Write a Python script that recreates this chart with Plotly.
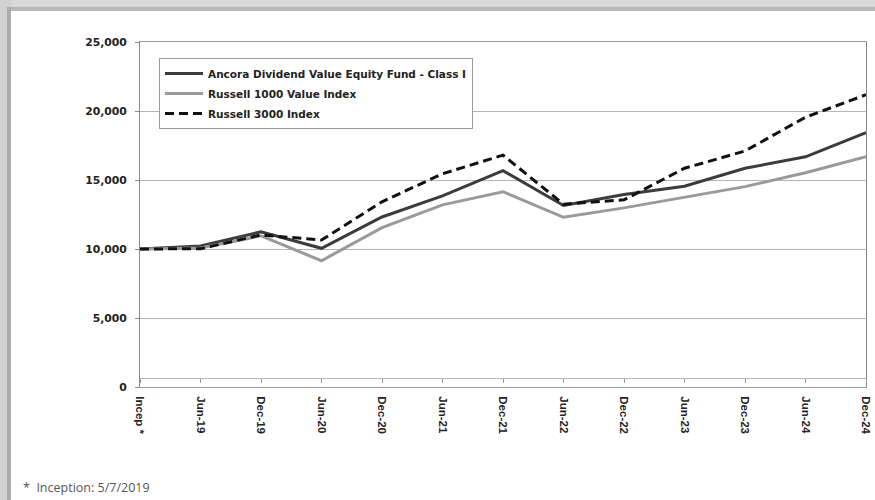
import plotly.graph_objects as go

categories = ["Incep *", "Jun-19", "Dec-19", "Jun-20", "Dec-20", "Jun-21", "Dec-21",
              "Jun-22", "Dec-22", "Jun-23", "Dec-23", "Jun-24", "Dec-24"]
fund = [10000, 10220, 11250, 10050, 12320, 13850, 15680, 13150, 13950, 14550, 15850, 16680, 18430]
r1000v = [10000, 10080, 10950, 9150, 11550, 13200, 14150, 12300, 12980, 13760, 14520, 15520, 16680]
r3000 = [10000, 10020, 11020, 10650, 13420, 15450, 16800, 13250, 13560, 15850, 17100, 19550, 21180]
names = ["Ancora Dividend Value Equity Fund - Class I", "Russell 1000 Value Index", "Russell 3000 Index"]
y_ticks = [0, 5000, 10000, 15000, 20000, 25000]
footnote = "*  Inception: 5/7/2019"

W, H = 875, 500
L, R, T, B = 140, 9, 42, 113
PW, PH = W - L - R, H - T - B


def px2x(px):
    return (px - L) / PW


def py2y(py):
    return (H - B - py) / PH


fig = go.Figure()
fig.add_trace(go.Scatter(x=categories, y=fund, mode="lines", name=names[0],
                         line=dict(color="#3c3c3c", width=3), legendgroup="a"))
fig.add_trace(go.Scatter(x=categories, y=r1000v, mode="lines", name=names[1],
                         line=dict(color="#9a9a9a", width=3), legendgroup="b"))
fig.add_trace(go.Scatter(x=categories, y=r3000, mode="lines", name=names[2],
                         line=dict(color="#111111", width=3, dash="9px,5px"), legendgroup="c"))
# helper trace for the secondary tick line
fig.add_trace(go.Scatter(x=categories, y=[None] * len(categories), xaxis="x2",
                         showlegend=False, hoverinfo="skip", mode="lines"))

shapes = []
# gray frame (top and left bands)
frame = [
    (0, 0, W, 11, "#d9d9d9"),
    (0, 7, W, 11, "#b8b8b8"),
    (0, 0, 11, H, "#d2d2d2"),
    (7, 7, 11, H, "#ababab"),
]
for x0, y0, x1, y1, c in frame:
    shapes.append(dict(type="rect", xref="paper", yref="paper",
                       x0=px2x(x0), x1=px2x(x1), y0=py2y(y0), y1=py2y(y1),
                       fillcolor=c, line=dict(width=0), layer="above"))

fig.update_layout(
    template="none",
    width=W, height=H,
    margin=dict(l=L, r=R, t=T, b=B, autoexpand=False),
    paper_bgcolor="white", plot_bgcolor="white",
    shapes=shapes,
    showlegend=True,
    legend=dict(x=px2x(159), y=py2y(58), xanchor="left", yanchor="top",
                bgcolor="white", bordercolor="#9a9a9a", borderwidth=1,
                font=dict(family="DejaVu Sans", size=10.5, color="#222", weight="bold"),
                traceorder="grouped", tracegroupgap=1, itemwidth=38),
    xaxis=dict(type="category", range=[0, len(categories) - 1], showgrid=False,
               automargin=False,
               showline=True, linecolor="#999999", linewidth=1, mirror=True,
               ticks="outside", ticklen=6, tickcolor="rgba(0,0,0,0)",
               tickangle=90,
               tickfont=dict(family="Liberation Sans", size=11.5, color="#222", weight="bold")),
    xaxis2=dict(type="category", range=[0, len(categories) - 1], overlaying="x",
                automargin=False,
                anchor="free", position=py2y(377.5), showgrid=False,
                showline=True, linecolor="#b5b5b5", linewidth=1, ticks="outside", ticklen=4,
                tickcolor="#999999", showticklabels=False),
    yaxis=dict(range=[0, 25000], tickvals=y_ticks, tickformat=",",
               automargin=False,
               showgrid=True, gridcolor="#b5b5b5", gridwidth=1,
               showline=True, linecolor="#888888", linewidth=1, mirror=True,
               ticks="outside", ticklen=4, tickcolor="#888888",
               zeroline=False, ticklabelstandoff=6,
               tickfont=dict(family="DejaVu Sans", size=10.8, color="#222", weight="bold")),
    annotations=[dict(text=footnote, xref="paper", yref="paper",
                      x=px2x(21), y=py2y(487), xanchor="left", yanchor="middle",
                      showarrow=False,
                      font=dict(family="Open Sans", size=12.5, color="#555"))],
)

fig.write_html("out.html")
